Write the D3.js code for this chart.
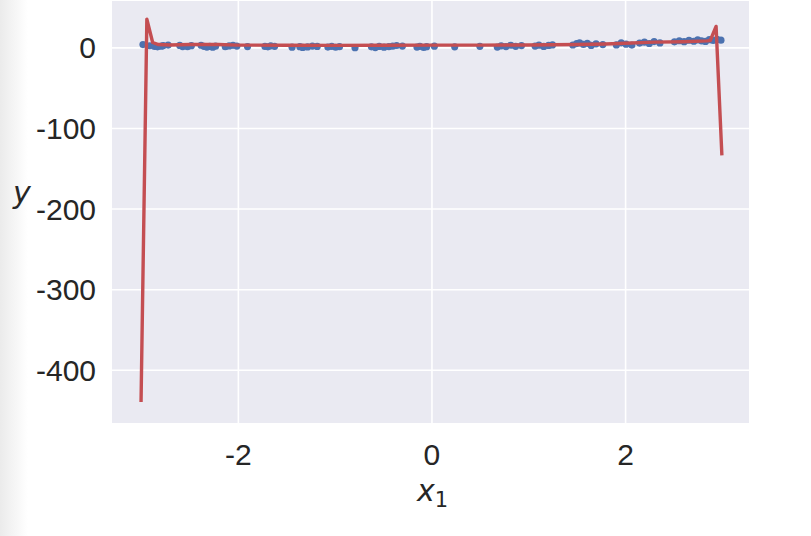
<!DOCTYPE html>
<html>
<head>
<meta charset="utf-8">
<script src="https://cdn.jsdelivr.net/npm/d3@7/dist/d3.min.js"></script>
<style>
  html, body { margin: 0; padding: 0; background: #fff; }
  svg { display: block; }
</style>
</head>
<body>
<script>
// ---- data ----
const pointX = [-2.98,-2.91,-2.86,-2.83,-2.79,-2.77,-2.72,-2.60,-2.57,-2.52,-2.48,-2.38,-2.35,-2.32,-2.29,-2.26,-2.23,-2.13,-2.09,-2.05,-2.01,-1.90,-1.72,-1.69,-1.66,-1.62,-1.44,-1.36,-1.33,-1.28,-1.23,-1.18,-1.07,-1.03,-0.99,-0.95,-0.79,-0.62,-0.58,-0.54,-0.49,-0.44,-0.40,-0.36,-0.30,-0.15,-0.12,-0.08,-0.05,0.03,0.24,0.50,0.68,0.72,0.77,0.82,0.87,0.93,1.07,1.11,1.16,1.21,1.25,1.46,1.50,1.53,1.57,1.61,1.65,1.70,1.77,1.91,1.96,2.01,2.07,2.15,2.20,2.25,2.30,2.36,2.51,2.56,2.61,2.66,2.71,2.75,2.79,2.83,2.87,2.91,2.95,2.99];
const pointY = [3.4,2.0,1.2,0.6,1.5,2.2,2.8,2.4,1.0,0.9,2.1,2.6,1.3,0.4,1.1,0.2,1.4,0.9,1.8,2.5,1.6,1.0,1.2,0.6,1.9,1.3,0.2,0.8,-0.1,0.5,1.6,1.1,0.3,1.3,0.1,0.9,-0.4,0.6,-0.3,1.1,0.2,0.9,1.4,2.3,1.6,0.4,1.2,-0.2,0.8,1.5,0.7,1.3,0.4,1.9,1.0,2.6,1.3,2.2,1.6,2.7,1.1,2.4,3.0,2.9,4.7,5.6,3.6,5.0,2.4,4.4,3.5,3.0,5.6,4.0,2.8,5.3,6.4,4.8,7.2,5.5,6.9,8.2,7.0,8.8,7.6,9.3,8.1,7.4,9.5,8.6,9.8,8.9];
const lineX = [-3.00,-2.94,-2.88,-2.82,-2.70,-2.50,-2.20,-2.00,-1.50,-1.00,-0.50,0.00,0.50,1.00,1.50,1.80,2.00,2.30,2.60,2.85,2.88,2.94,3.00];
const lineY = [-440,35,6,3.5,3.0,3.5,3.6,2.8,2.6,2.5,2.6,2.7,2.8,3.0,3.6,4.2,5.0,6.5,7.0,8.0,8.5,26,-134];
const xTicks = [-2, 0, 2];
const yTicks = [0, -100, -200, -300, -400];
const xLabelMain = "x";
const xLabelSub = "1";
const yLabel = "y";

// ---- layout ----
const W = 811, H = 536;
const plot = { left: 112, right: 749, top: 1, bottom: 423 };

const svg = d3.select("body").append("svg").attr("width", W).attr("height", H);

// soft left-edge shade seen in the reference
const defs = svg.append("defs");
const grad = defs.append("linearGradient").attr("id", "shade").attr("x1", 0).attr("x2", 1).attr("y1", 0).attr("y2", 0);
grad.append("stop").attr("offset", "0%").attr("stop-color", "#ebebeb");
grad.append("stop").attr("offset", "100%").attr("stop-color", "#ffffff");
svg.append("rect").attr("x", 0).attr("y", 0).attr("width", 28).attr("height", H).attr("fill", "url(#shade)");

const x = d3.scaleLinear().domain([-3.3, 3.28]).range([plot.left, plot.right]);
const y = d3.scaleLinear().domain([-466, 57.5]).range([plot.bottom, plot.top]);

svg.append("rect")
  .attr("x", plot.left).attr("y", plot.top)
  .attr("width", plot.right - plot.left).attr("height", plot.bottom - plot.top)
  .attr("fill", "#eaeaf2");

// grid
const gx = svg.append("g").attr("transform", `translate(0,${plot.bottom})`)
  .call(d3.axisBottom(x).tickValues(xTicks).tickSize(-(plot.bottom - plot.top)).tickPadding(21)
    .tickFormat(d => String(d)));
const gy = svg.append("g").attr("transform", `translate(${plot.left},0)`)
  .call(d3.axisLeft(y).tickValues(yTicks).tickSize(-(plot.right - plot.left)).tickPadding(16)
    .tickFormat(d => String(d)));
[gx, gy].forEach(g => {
  g.select(".domain").remove();
  g.selectAll(".tick line").attr("stroke", "#ffffff").attr("stroke-width", 1.6);
  g.selectAll(".tick text").attr("fill", "#262626")
    .style("font-family", "'Liberation Sans', Arial, sans-serif").style("font-size", "30px");
});
gx.selectAll(".tick text").attr("dy", "0.71em");
gy.selectAll(".tick text").attr("dy", "0.35em");

const clip = defs.append("clipPath").attr("id", "clip");
clip.append("rect").attr("x", plot.left).attr("y", plot.top)
  .attr("width", plot.right - plot.left).attr("height", plot.bottom - plot.top);

const g = svg.append("g").attr("clip-path", "url(#clip)");

// scatter points
const pts = pointX.map((d, i) => [d, pointY[i]]);
g.selectAll("circle").data(pts).enter().append("circle")
  .attr("cx", d => x(d[0])).attr("cy", d => y(d[1])).attr("r", 3.6)
  .attr("fill", "#4c72b0");

// fitted line
const linePts = lineX.map((d, i) => [d, lineY[i]]);
g.append("path").datum(linePts)
  .attr("d", d3.line().x(d => x(d[0])).y(d => y(d[1])))
  .attr("fill", "none").attr("stroke", "#c44e52").attr("stroke-width", 3.4)
  .attr("stroke-linejoin", "round").attr("stroke-linecap", "butt");

// axis labels
const xl = svg.append("text")
  .attr("x", (x(-3.3) + x(3.28)) / 2 + 2).attr("y", 501)
  .attr("text-anchor", "middle").attr("fill", "#262626")
  .style("font-family", "'DejaVu Sans', sans-serif").style("font-size", "30px");
xl.append("tspan").style("font-style", "italic").text(xLabelMain);
xl.append("tspan").attr("dy", 6).style("font-size", "21px").text(xLabelSub);

svg.append("text")
  .attr("x", 22).attr("y", 203)
  .attr("text-anchor", "middle").attr("fill", "#262626")
  .style("font-family", "'DejaVu Sans', sans-serif").style("font-size", "30px")
  .style("font-style", "italic").text(yLabel);
</script>
</body>
</html>
